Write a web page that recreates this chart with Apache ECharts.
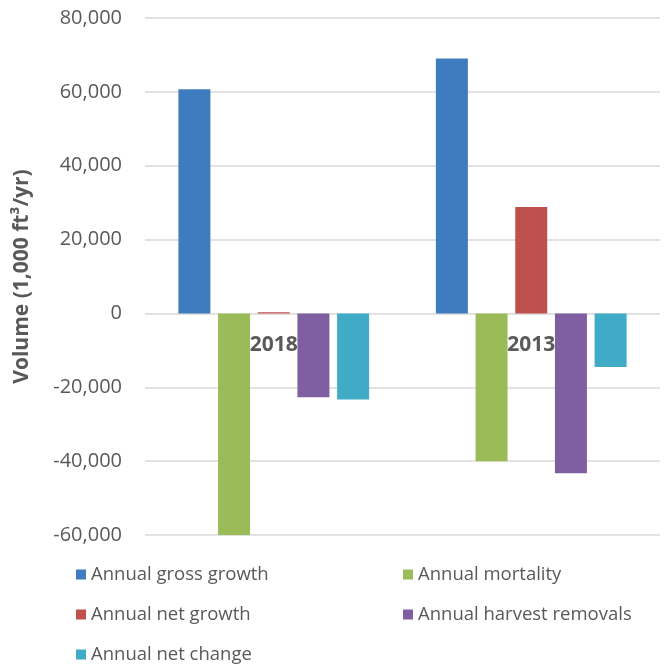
<!DOCTYPE html>
<html lang="en">
<head>
    <meta charset="UTF-8">
    <title>Volume chart</title>
    <style>
        html, body { margin: 0; padding: 0; background: #fff; }
    </style>
</head>
<body>
<div id="main" style="width: 664px;height:665px;"></div>
<script src="https://cdn.jsdelivr.net/npm/echarts@6/dist/echarts.min.js"></script>
<script type="text/javascript">
    // data
    var years = ["2018", "2013"];
    var seriesNames = ["Annual gross growth", "Annual mortality", "Annual net growth",
        "Annual harvest removals", "Annual net change"];
    var grossGrowth = [60700, 69000];
    var mortality = [-60000, -40000];
    var netGrowth = [300, 28800];
    var harvestRemovals = [-22700, -43300];
    var netChange = [-23300, -14500];
    var yTicks = [-60000, -40000, -20000, 0, 20000, 40000, 60000, 80000];

    var colors = ['#3F7CBF', '#9BBB59', '#C0504D', '#7F5FA1', '#3FABC6'];
    var values = [grossGrowth, mortality, netGrowth, harvestRemovals, netChange];
    var font = "'Open Sans', 'Liberation Sans', sans-serif";

    var gridTop = 18, gridBottom = 130, H = 665;
    var plotH = H - gridTop - gridBottom;
    var yMin = yTicks[0], yMax = yTicks[yTicks.length - 1];
    // move category axis up to the zero line
    var zeroOffset = -(0 - yMin) / (yMax - yMin) * plotH;

    var myChart = echarts.init(document.getElementById("main"));

    // legend positions (two columns)
    var legendPos = [[71, 560], [398, 560], [71, 600], [398, 600], [71, 640]];
    var legends = seriesNames.map(function (n, i) {
        return {
            data: [n],
            left: legendPos[i][0],
            top: legendPos[i][1],
            icon: 'rect',
            itemWidth: 10,
            itemHeight: 10,
            itemGap: 5,
            selectedMode: false,
            textStyle: { color: '#595959', fontSize: 18.5, fontFamily: font }
        };
    });

    var option = {
        animation: false,
        color: colors,
        grid: { left: 145, right: 4, top: gridTop, bottom: gridBottom },
        legend: legends,
        xAxis: {
            type: 'category',
            data: years,
            offset: zeroOffset,
            axisLine: { onZero: false, show: false },
            axisTick: { show: false },
            axisLabel: {
                margin: 21,
                color: '#595959',
                fontSize: 21,
                fontWeight: 'bold',
                fontFamily: font
            }
        },
        yAxis: {
            type: 'value',
            min: yMin,
            max: yMax,
            interval: 20000,
            name: 'Volume (1,000 ft³/yr)',
            nameLocation: 'middle',
            nameGap: 112,
            nameTextStyle: { color: '#595959', fontSize: 21, fontWeight: 'bold', fontFamily: font },
            axisLine: { show: false },
            axisTick: { show: false },
            splitLine: { lineStyle: { color: '#d9d9d9', width: 1.5 } },
            axisLabel: {
                margin: 23,
                color: '#595959',
                fontSize: 20,
                fontFamily: font,
                formatter: function (v) {
                    return v.toLocaleString('en-US');
                }
            }
        },
        series: seriesNames.map(function (n, i) {
            return {
                name: n,
                type: 'bar',
                barWidth: 32,
                barGap: '24%',
                data: values[i]
            };
        })
    };

    myChart.setOption(option);
</script>
</body>
</html>
